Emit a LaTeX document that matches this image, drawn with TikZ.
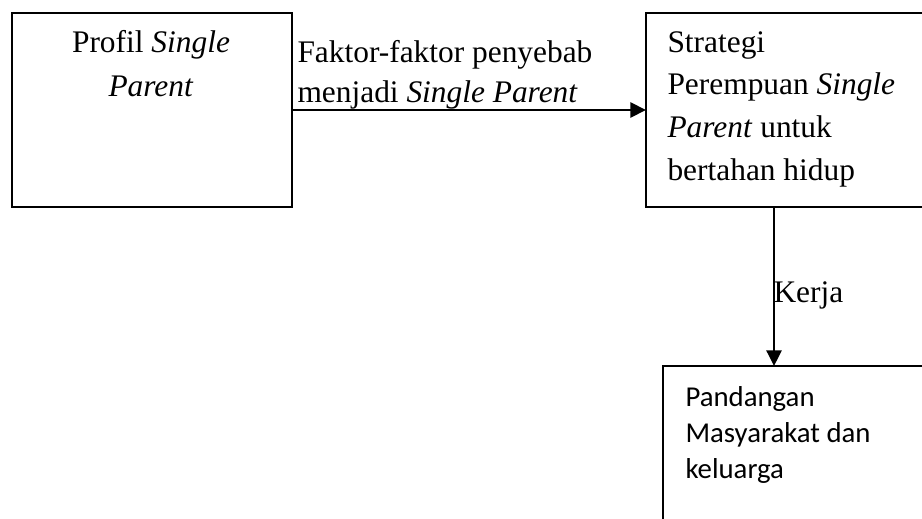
\documentclass[tikz,border=0pt]{standalone}
\usepackage{fontspec}
\setmainfont{Liberation Serif}
\newfontfamily\calib{Carlito}
\newfontfamily\tnrfont{Liberation Serif}
\usetikzlibrary{arrows.meta}
\begin{document}
\begin{tikzpicture}[x=0.3822pt,y=-0.3822pt,
  box/.style={draw, line width=0.8pt, inner sep=0pt, outer sep=0pt, anchor=north west},
  tnr/.style={inner sep=0pt, anchor=base west, font=\tnrfont\fontsize{12}{14}\selectfont},
  tnrc/.style={inner sep=0pt, anchor=base, font=\tnrfont\fontsize{12}{14}\selectfont},
  cal/.style={inner sep=0pt, anchor=base west, font=\calib\fontsize{11}{13}\selectfont},
  arr/.style={line width=0.8pt, -{Triangle[length=6pt,width=5.8pt]}}]
\useasboundingbox (0,0) rectangle (922,518);
% boxes
\node[box, minimum width={280*0.3822pt}, minimum height={194*0.3822pt}] (b1) at (12,13) {};
\node[box, minimum width={284*0.3822pt}, minimum height={194*0.3822pt}] (b2) at (646,13) {};
\node[box, minimum width={267*0.3822pt}, minimum height={170*0.3822pt}] (b3) at (663,366) {};
% box 1 text
\node[tnrc] (t1a) at (151,53) {Profil \textit{Single}};
\node[tnrc] (t1b) at (151,96) {\textit{Parent}};
% box 2 text
\node[tnr] (t2a) at (667,53) {Strategi};
\node[tnr] (t2b) at (667,95) {Perempuan \textit{Single}};
\node[tnr] (t2c) at (667,137) {\textit{Parent} untuk};
\node[tnr] (t2d) at (667,180) {bertahan hidup};
% labels
\node[tnr] (l1a) at (297,63) {Faktor-faktor penyebab};
\node[tnr] (l1b) at (297,103) {menjadi \textit{Single Parent}};
\node[tnr] (l2) at (773,302) {Kerja};
% box 3 text
\node[cal] (t3a) at (685,406) {Pandangan};
\node[cal] (t3b) at (685,442) {Masyarakat dan};
\node[cal] (t3c) at (685,478) {keluarga};
% connectors
\draw[arr] (b1.east) -- (b2.west);
\coordinate (cx) at (774,0);
\draw[arr] (b2.south -| cx) -- (b3.north -| cx);
\end{tikzpicture}
\end{document}
